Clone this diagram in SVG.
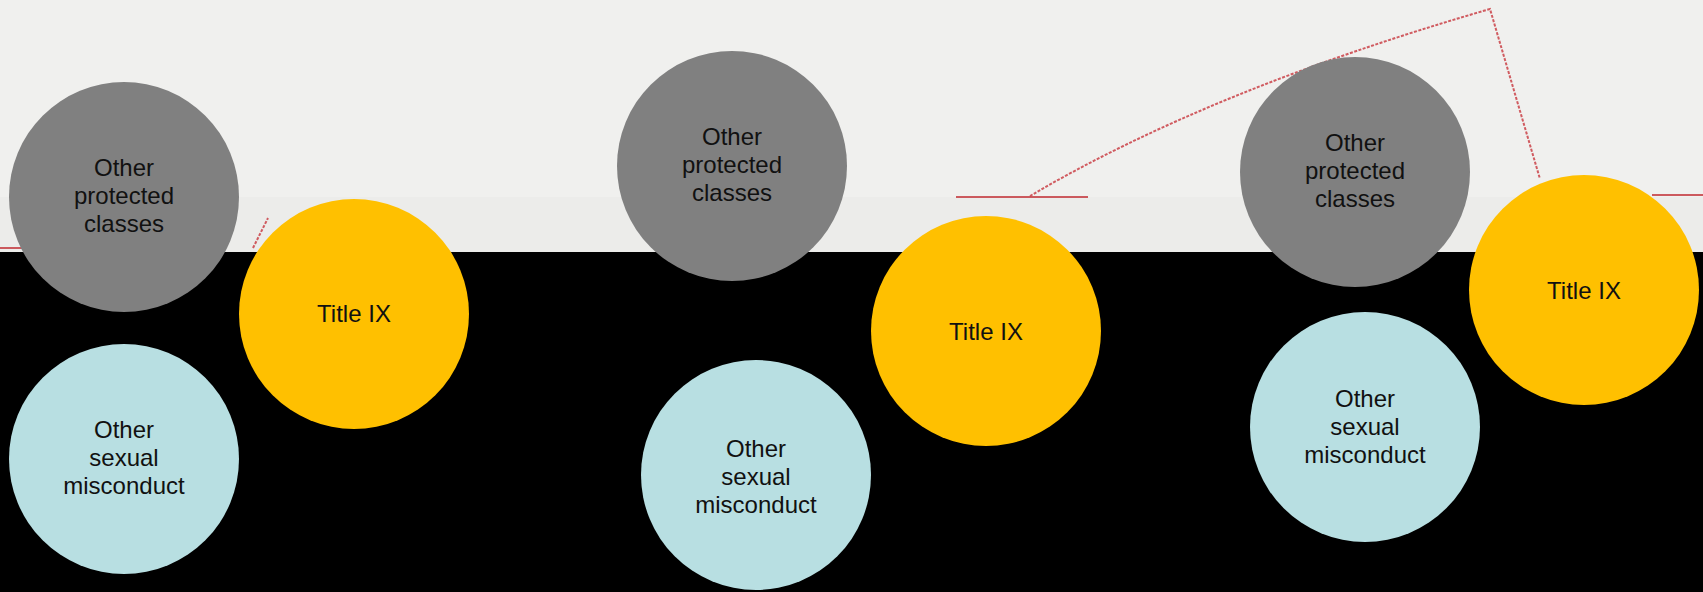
<svg xmlns="http://www.w3.org/2000/svg" width="1703" height="592" viewBox="0 0 1703 592">
<style>
.gray{fill:#808080}
.yellow{fill:#FFC000}
.blue{fill:#B8DFE2}
text{font-family:"Liberation Sans",Arial,sans-serif;font-size:24px;fill:#111;text-anchor:middle}
.red{stroke:#C0282E;stroke-width:1.5;fill:none}
.sketch{stroke:#C8363C;stroke-width:2;fill:none;stroke-dasharray:3 1.5;opacity:0.8}
</style>
<rect x="0" y="0" width="1703" height="592" fill="#000"/>
<rect x="0" y="0" width="1703" height="197" fill="#F0F0EE"/>
<rect x="0" y="197" width="1703" height="55" fill="#ECECEA"/>
<g id="connectors">
<line class="red" x1="0" y1="248" x2="22" y2="248"/>
<path class="sketch" d="M253 248 L268 218"/>
<line class="red" x1="956" y1="197" x2="1088" y2="197"/>
<path class="sketch" d="M1030 196 Q1210 90 1490 9 L1540 179"/>
<line class="red" x1="1652" y1="195" x2="1703" y2="195"/>
</g>
<g id="gray1"><circle class="gray" cx="124" cy="197" r="115"/><text x="124" y="176">Other</text><text x="124" y="204">protected</text><text x="124" y="232">classes</text></g>
<g id="yellow1"><circle class="yellow" cx="354" cy="314" r="115"/><text x="354" y="322">Title IX</text></g>
<g id="blue1"><circle class="blue" cx="124" cy="459" r="115"/><text x="124" y="438">Other</text><text x="124" y="466">sexual</text><text x="124" y="494">misconduct</text></g>
<g id="gray2"><circle class="gray" cx="732" cy="166" r="115"/><text x="732" y="145">Other</text><text x="732" y="173">protected</text><text x="732" y="201">classes</text></g>
<g id="yellow2"><circle class="yellow" cx="986" cy="331" r="115"/><text x="986" y="340">Title IX</text></g>
<g id="blue2"><circle class="blue" cx="756" cy="475" r="115"/><text x="756" y="457">Other</text><text x="756" y="485">sexual</text><text x="756" y="513">misconduct</text></g>
<g id="gray3"><circle class="gray" cx="1355" cy="172" r="115"/><text x="1355" y="151">Other</text><text x="1355" y="179">protected</text><text x="1355" y="207">classes</text></g>
<g id="blue3"><circle class="blue" cx="1365" cy="427" r="115"/><text x="1365" y="407">Other</text><text x="1365" y="435">sexual</text><text x="1365" y="463">misconduct</text></g>
<g id="yellow3"><circle class="yellow" cx="1584" cy="290" r="115"/><text x="1584" y="299">Title IX</text></g>
</svg>
